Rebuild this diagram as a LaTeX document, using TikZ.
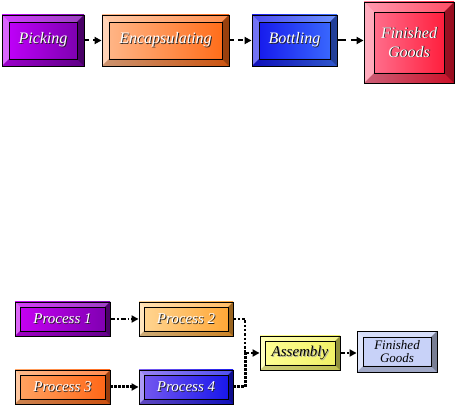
\documentclass[tikz,border=0pt]{standalone}
\usepackage{fontspec}
\newfontfamily\tfont{Liberation Serif}
\usetikzlibrary{arrows.meta,calc}
\newcommand\shtxt[2][white]{\leavevmode\rlap{\kern0.9pt\raisebox{-0.9pt}{\textcolor{black!85}{#2}}}\textcolor{#1}{#2}}
\newcommand\ashtxt[1]{\leavevmode\rlap{\kern0.9pt\raisebox{-0.9pt}{\textcolor{black!35}{#1}}}\textcolor{black}{#1}}
\tikzset{
  bevw/.store in=\bevw, bevw=7pt,
  btn/.style={rectangle, draw=black, line width=0.9pt, inner sep=0pt, align=center,
    font=\tfont\itshape\fontsize{16}{17}\selectfont,
    path picture={
      \coordinate (nw) at (path picture bounding box.north west);
      \coordinate (ne) at (path picture bounding box.north east);
      \coordinate (sw) at (path picture bounding box.south west);
      \coordinate (se) at (path picture bounding box.south east);
      \coordinate (inw) at ([xshift=\bevw,yshift=-\bevw]nw);
      \coordinate (ine) at ([xshift=-\bevw,yshift=-\bevw]ne);
      \coordinate (isw) at ([xshift=\bevw,yshift=\bevw]sw);
      \coordinate (ise) at ([xshift=-\bevw,yshift=\bevw]se);
      \fill[white,opacity=0.25] (nw)--(ne)--(ine)--(inw)--cycle;
      \fill[white,opacity=0.4] (nw)--(inw)--(isw)--(sw)--cycle;
      \fill[black,opacity=0.2] (sw)--(isw)--(ise)--(se)--cycle;
      \fill[black,opacity=0.4] (ne)--(ine)--(ise)--(se)--cycle;
      \draw[black,line width=0.7pt] (inw) rectangle (ise);
    }},
  conn/.style={line width=2pt, -{Triangle[length=7pt,width=7pt]}},
}
\begin{document}
\begin{tikzpicture}[x=1pt,y=1pt]
\useasboundingbox (0,0) rectangle (456,405);
% top row
\node[btn, bevw=7pt, minimum width=82pt, minimum height=51pt, left color={rgb,255:red,196;green,0;blue,255}, right color={rgb,255:red,120;green,0;blue,170}] (pick) at (43,364.5) {\raisebox{-2pt}{\shtxt{Picking}}};
\node[btn, bevw=7pt, minimum width=127pt, minimum height=51pt, left color={rgb,255:red,255;green,185;blue,140}, right color={rgb,255:red,255;green,105;blue,20}] (enc) at (165.5,364.5) {\raisebox{-2pt}{\shtxt{Encapsulating}}};
\node[btn, bevw=7pt, minimum width=85pt, minimum height=51pt, left color={rgb,255:red,20;green,20;blue,235}, right color={rgb,255:red,60;green,110;blue,255}] (bott) at (294.5,364.5) {\raisebox{-2pt}{\shtxt{Bottling}}};
\node[btn, bevw=10pt, minimum width=90pt, minimum height=81pt, left color={rgb,255:red,255;green,120;blue,150}, right color={rgb,255:red,255;green,20;blue,50}] (fg) at (409,362.5) {\shtxt{Finished}\\[2pt]\shtxt{Goods}};
\draw[conn, dash pattern=on 5pt off 4pt] (pick.east) -- (enc.west);
\draw[conn, dash pattern=on 5pt off 4pt] (enc.east) -- (bott.west);
\draw[conn, dash pattern=on 9pt off 5pt] (bott.east) -- (fg.west |- bott.east);
% bottom row
\tikzset{small/.style={font=\tfont\itshape\fontsize{15}{16}\selectfont}}
\node[btn, small, bevw=5pt, minimum width=95pt, minimum height=34pt, left color={rgb,255:red,200;green,0;blue,245}, right color={rgb,255:red,125;green,0;blue,175}] (p1) at (62.5,86) {\shtxt{Process 1}};
\node[btn, small, bevw=5pt, minimum width=94pt, minimum height=34pt, left color={rgb,255:red,255;green,215;blue,150}, right color={rgb,255:red,255;green,165;blue,50}] (p2) at (186,86) {\shtxt{Process 2}};
\node[btn, small, bevw=5pt, minimum width=95pt, minimum height=34pt, left color={rgb,255:red,255;green,165;blue,100}, right color={rgb,255:red,255;green,100;blue,20}] (p3) at (62.5,18) {\shtxt{Process 3}};
\node[btn, small, bevw=5pt, minimum width=94pt, minimum height=34pt, left color={rgb,255:red,120;green,90;blue,240}, right color={rgb,255:red,20;green,20;blue,235}] (p4) at (186,18) {\shtxt{Process 4}};
\node[btn, small, bevw=5pt, minimum width=80pt, minimum height=34pt, left color={rgb,255:red,255;green,255;blue,150}, right color={rgb,255:red,240;green,240;blue,100}] (asm) at (300,52) {\ashtxt{Assembly}};
\node[btn, bevw=6pt, minimum width=80pt, minimum height=41pt, font=\tfont\itshape\fontsize{13}{13}\selectfont, fill={rgb,255:red,200;green,210;blue,248}] (fg2) at (397,53.5) {Finished\\Goods};
\coordinate (j1) at (245,86);
\coordinate (j2) at (245,18);
\coordinate (jm) at (245,52);
\draw[conn, line width=1.8pt, dash pattern=on 5pt off 2pt on 1.5pt off 2pt] (p1.east) -- (p2.west);
\draw[conn, line width=3pt, dash pattern=on 2.5pt off 1.5pt] (p3.east) -- (p4.west);
\draw[line width=2.2pt, dash pattern=on 2.5pt off 1.8pt] (p2.east) -- (j1) -- (jm);
\draw[line width=3pt, dash pattern=on 2.5pt off 1.5pt] (p4.east) -- (j2) -- (jm);
\draw[conn, line width=1.8pt, dash pattern=on 4pt off 2pt] (jm) -- (asm.west);
\draw[conn, line width=1.8pt, dash pattern=on 5pt off 2pt on 1.5pt off 2pt] (asm.east) -- (fg2.west |- asm.east);
\end{tikzpicture}
\end{document}
